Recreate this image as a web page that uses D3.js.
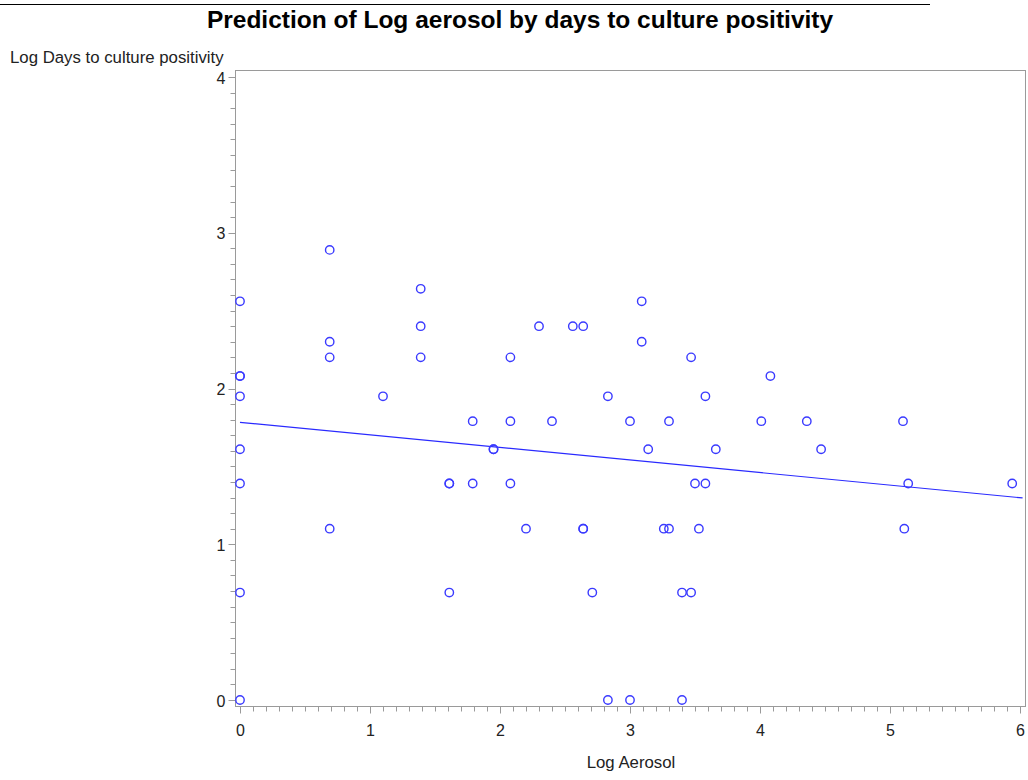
<!doctype html>
<html lang="en">
  <head>
    <meta charset="UTF-8" />
    <title>Prediction of Log aerosol</title>
    <style>
      body { margin: 0; background: #fff; }
      svg text { font-family: "Liberation Sans", Arial, sans-serif; }
    </style>
  </head>
  <body>
    <svg id="chart"></svg>
    <script src="https://d3js.org/d3.v7.min.js"></script>
    <script>
      /* global d3 */

      // Log Aerosol (x) and Log Days to culture positivity (y), one entry per subject
      const logAerosol = [
        0, 0, 0, 0, 0, 0, 0, 0,
        0.69, 0.69, 0.69, 0.69,
        1.10,
        1.39, 1.39, 1.39,
        1.61, 1.61, 1.61,
        1.79, 1.79,
        1.95, 1.95,
        2.08, 2.08, 2.08,
        2.20, 2.30, 2.40, 2.56,
        2.64, 2.64, 2.64,
        2.71,
        2.83, 2.83,
        3.00, 3.00,
        3.09, 3.09,
        3.14, 3.26,
        3.30, 3.30,
        3.40, 3.40,
        3.47, 3.47,
        3.50, 3.53,
        3.58, 3.58,
        3.66, 4.01, 4.08, 4.36, 4.47,
        5.10, 5.11, 5.14, 5.94
      ];
      const logDays = [
        0, 0.69, 1.39, 1.61, 1.95, 2.08, 2.08, 2.56,
        2.89, 2.30, 2.20, 1.10,
        1.95,
        2.64, 2.40, 2.20,
        1.39, 1.39, 0.69,
        1.79, 1.39,
        1.61, 1.61,
        2.20, 1.79, 1.39,
        1.10, 2.40, 1.79, 2.40,
        2.40, 1.10, 1.10,
        0.69,
        1.95, 0,
        1.79, 0,
        2.56, 2.30,
        1.61, 1.10,
        1.79, 1.10,
        0.69, 0,
        2.20, 0.69,
        1.39, 1.10,
        1.95, 1.39,
        1.61, 1.79, 2.08, 1.79, 1.61,
        1.79, 1.10, 1.39, 1.39
      ];

      // fitted regression line
      const fitIntercept = 1.783;
      const fitSlope = -0.0807;
      const fitRange = [0, 6.02];

      const xTicks = [0, 1, 2, 3, 4, 5, 6];
      const yTicks = [0, 1, 2, 3, 4];

      const width = 1028,
        height = 780;

      const svg = d3
        .select("#chart")
        .attr("width", width)
        .attr("height", height)
        .attr("viewBox", [0, 0, width, height]);

      const x = d3.scaleLinear().domain([0, 6]).range([240, 1020]);
      const y = d3.scaleLinear().domain([0, 4]).range([700, 77]);

      const frame = { left: 235, right: 1025, top: 70, bottom: 706 };
      const grey = "#9a9a9a";

      // top rule + title
      svg.append("line")
        .attr("x1", 0).attr("x2", 930)
        .attr("y1", 4.5).attr("y2", 4.5)
        .attr("stroke", "#000").attr("stroke-width", 1);

      svg.append("text")
        .attr("x", 520).attr("y", 28)
        .attr("text-anchor", "middle")
        .attr("font-size", 24.5).attr("font-weight", "bold")
        .attr("fill", "#000")
        .text("Prediction of Log aerosol by days to culture positivity");

      // frame
      svg.append("rect")
        .attr("x", frame.left + 0.5).attr("y", frame.top + 0.5)
        .attr("width", frame.right - frame.left)
        .attr("height", frame.bottom - frame.top)
        .attr("fill", "none").attr("stroke", grey);

      // x axis
      const xAxis = svg.append("g").attr("transform", `translate(0.5, ${frame.bottom + 0.5})`);
      xAxis.selectAll("line.minor")
        .data(d3.range(0, 60.5).map((i) => i / 10))
        .join("line")
        .attr("x1", (d) => Math.round(x(d))).attr("x2", (d) => Math.round(x(d)))
        .attr("y1", 0).attr("y2", (d, i) => (i % 10 === 0 ? 7 : 5))
        .attr("stroke", grey);
      xAxis.selectAll("text")
        .data(xTicks)
        .join("text")
        .attr("x", (d) => x(d)).attr("y", 29)
        .attr("text-anchor", "middle")
        .attr("font-size", 16).attr("fill", "#222")
        .text((d) => d);

      // y axis
      const yAxis = svg.append("g").attr("transform", `translate(${frame.left + 0.5}, 0.5)`);
      yAxis.selectAll("line.minor")
        .data(d3.range(0, 40.5).map((i) => i / 10))
        .join("line")
        .attr("y1", (d) => Math.round(y(d))).attr("y2", (d) => Math.round(y(d)))
        .attr("x1", 0).attr("x2", (d, i) => (i % 10 === 0 ? -7 : -5))
        .attr("stroke", grey);
      yAxis.selectAll("text")
        .data(yTicks)
        .join("text")
        .attr("x", -10).attr("y", (d) => y(d) + 6)
        .attr("text-anchor", "end")
        .attr("font-size", 16).attr("fill", "#222")
        .text((d) => d);

      // axis labels
      svg.append("text")
        .attr("x", 10).attr("y", 63)
        .attr("font-size", 16.8).attr("fill", "#222")
        .text("Log Days to culture positivity");
      svg.append("text")
        .attr("x", 631).attr("y", 768)
        .attr("text-anchor", "middle")
        .attr("font-size", 16.8).attr("fill", "#222")
        .text("Log Aerosol");

      // regression line
      svg.append("line")
        .attr("x1", x(fitRange[0])).attr("y1", y(fitIntercept + fitSlope * fitRange[0]))
        .attr("x2", x(fitRange[1])).attr("y2", y(fitIntercept + fitSlope * fitRange[1]))
        .attr("stroke", "#2a2aff").attr("stroke-width", 1.2);

      // points
      const points = logAerosol.map((v, i) => ({ x: v, y: logDays[i] }));
      svg.append("g")
        .selectAll("circle")
        .data(points)
        .join("circle")
        .attr("cx", (d) => x(d.x))
        .attr("cy", (d) => y(d.y))
        .attr("r", 4.2)
        .attr("fill", "none")
        .attr("stroke", "#3a3aff")
        .attr("stroke-width", 1.4);
    </script>
  </body>
</html>
